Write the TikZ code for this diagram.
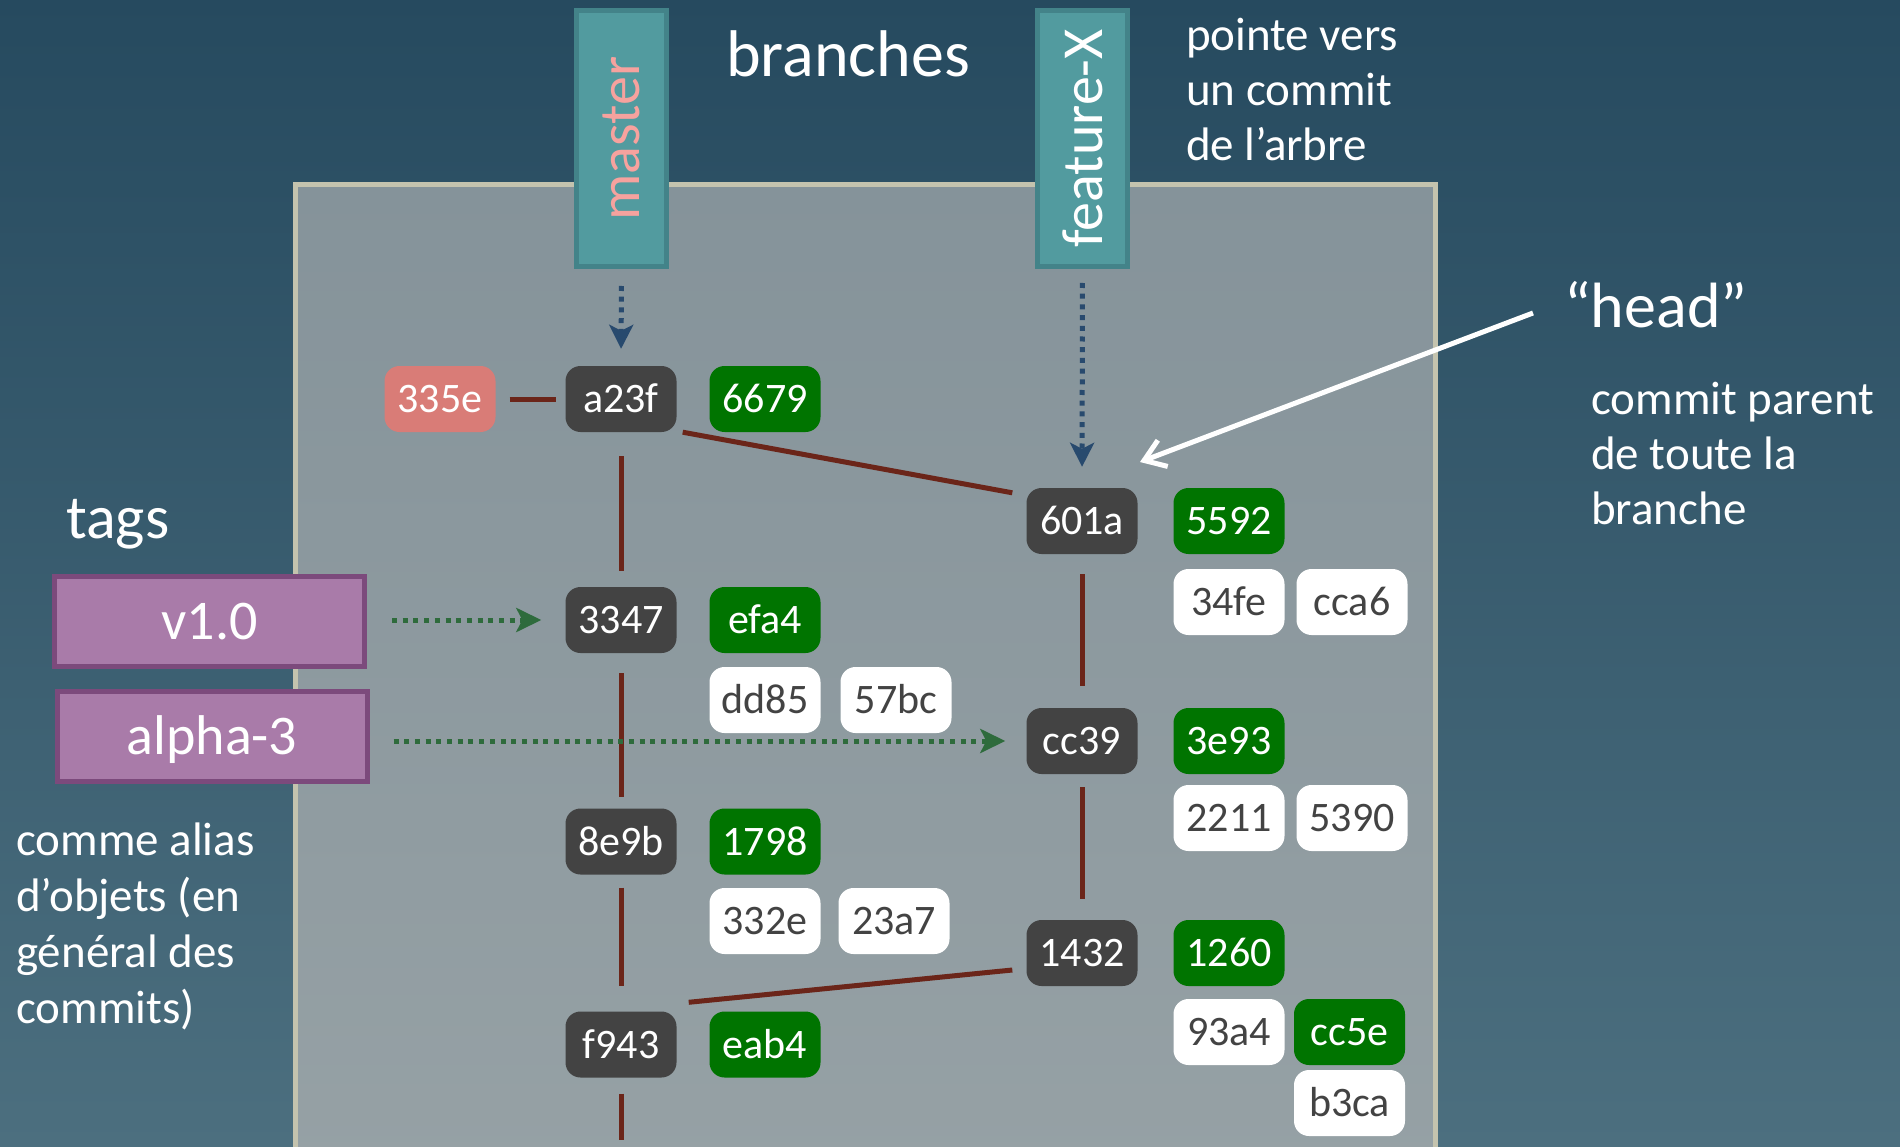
\documentclass[tikz,border=0pt]{standalone}
\usepackage{fontspec}
\setmainfont{Carlito}
\usetikzlibrary{arrows.meta}
\definecolor{bgtop}{HTML}{264A5F}
\definecolor{bgbot}{HTML}{4C6F7F}
\definecolor{paneltop}{HTML}{85939A}
\definecolor{panelbot}{HTML}{96A1A5}
\definecolor{panelline}{HTML}{C4C3AE}
\definecolor{commitgray}{HTML}{434343}
\definecolor{treegreen}{HTML}{007400}
\definecolor{pinkbox}{HTML}{D97C77}
\definecolor{linkred}{HTML}{6B2519}
\definecolor{branchfill}{HTML}{529B9F}
\definecolor{branchline}{HTML}{438389}
\definecolor{mastertext}{HTML}{F6A29E}
\definecolor{tagfill}{HTML}{A97BA9}
\definecolor{tagline}{HTML}{7C4A7C}
\definecolor{taggreen}{HTML}{2E6B3C}
\definecolor{branchblue}{HTML}{284A6E}
\newcommand\fsz[1]{\fontsize{#1}{#1}\selectfont}
\begin{document}
\begin{tikzpicture}[x=1pt,y=-1pt,
  objbox/.style={rounded corners=15pt, minimum width=111pt, minimum height=66pt,
    inner sep=0pt, text height=27pt, text depth=0pt, font=\fsz{42}},
  commit/.style={objbox, fill=commitgray, text=white},
  treeobj/.style={objbox, fill=treegreen, text=white},
  blobobj/.style={objbox, fill=white, text=commitgray},
  pinkobj/.style={objbox, fill=pinkbox, text=white},
  branchbox/.style={draw=branchline, line width=5pt, fill=branchfill, rotate=90,
    minimum width=256pt, minimum height=90pt, inner sep=0pt, font=\fsz{58}},
  tagbox/.style={draw=tagline, line width=5pt, fill=tagfill, text=white,
    minimum width=310pt, minimum height=90pt, inner sep=0pt,
    text height=35pt, text depth=0pt, font=\fsz{56}},
  link/.style={draw=linkred, line width=5pt},
  tagarrow/.style={draw=taggreen, line width=5pt, dash pattern=on 5pt off 5.7pt,
    -{Stealth[length=25pt,width=24pt,inset=6pt]}},
  brancharrow/.style={draw=branchblue, line width=5pt, dash pattern=on 5pt off 5.7pt,
    -{Stealth[length=24pt,width=24pt,inset=6pt]}},
  headarrow/.style={draw=white, line width=5pt, -{Straight Barb[length=20pt,width=28pt]}},
  label/.style={text=white, inner sep=0pt, anchor=base west},
]
\useasboundingbox (0,0) rectangle (1900,1147);
\shade[top color=bgtop, bottom color=bgbot] (0,0) rectangle (1900,1147);
\begin{scope}
  \clip (0,0) rectangle (1900,1147);
  \shadedraw[top color=paneltop, bottom color=panelbot, draw=panelline, line width=5pt]
    (295,184.5) rectangle (1435,1170);
\end{scope}

% titles and explanations
\node[text=white, inner sep=0pt, anchor=base, font=\fsz{66}] (branches) at (848,77) {branches};
\node[label, font=\fsz{47}] (pv1) at (1186,51) {pointe vers};
\node[label, font=\fsz{47}] (pv2) at (1186,106) {un commit};
\node[label, font=\fsz{47}] (pv3) at (1186,161) {de l’arbre};
\node[label, font=\fsz{64}] (head) at (1564,328) {“head”};
\node[label, font=\fsz{47}] (cp1) at (1591,414) {commit parent};
\node[label, font=\fsz{47}] (cp2) at (1591,469) {de toute la};
\node[label, font=\fsz{47}] (cp3) at (1591,524) {branche};
\node[label, font=\fsz{62}] (tags) at (66,538) {tags};
\node[label, font=\fsz{47}] (ca1) at (16,855) {comme alias};
\node[label, font=\fsz{47}] (ca2) at (16,911) {d’objets (en};
\node[label, font=\fsz{47}] (ca3) at (16,967) {général des};
\node[label, font=\fsz{47}] (ca4) at (16,1023) {commits)};

% branches
\node[branchbox, text=mastertext] (master) at (621.5,138.5) {master};
\node[branchbox, text=white] (featx) at (1082.5,138.5) {feature-X};

% tags
\node[tagbox] (v10) at (209.5,621.5) {v1.0};
\node[tagbox] (alpha) at (212,736.5) {alpha-3};

% commits
\node[commit] (ca23f) at (621,399) {a23f};
\node[commit] (c3347) at (621,620) {3347};
\node[commit] (c8e9b) at (621,841.5) {8e9b};
\node[commit] (cf943) at (621,1044.5) {f943};
\node[commit] (c601a) at (1082,521) {601a};
\node[commit] (ccc39) at (1082,741) {cc39};
\node[commit] (c1432) at (1082,953) {1432};
\node[pinkobj] (p335e) at (440,399) {335e};

% trees
\node[treeobj] (g6679) at (765,399) {6679};
\node[treeobj] (gefa4) at (765,620) {efa4};
\node[treeobj] (g1798) at (765,841.5) {1798};
\node[treeobj] (geab4) at (765,1044.5) {eab4};
\node[treeobj] (g5592) at (1229,521) {5592};
\node[treeobj] (g3e93) at (1229,741) {3e93};
\node[treeobj] (g1260) at (1229,953) {1260};
\node[treeobj] (gcc5e) at (1349.5,1032) {cc5e};

% blobs
\node[blobobj] (wdd85) at (765,700) {dd85};
\node[blobobj] (w57bc) at (896,700) {57bc};
\node[blobobj] (w34fe) at (1229,602) {34fe};
\node[blobobj] (wcca6) at (1352,602) {cca6};
\node[blobobj] (w2211) at (1229,818) {2211};
\node[blobobj] (w5390) at (1352,818) {5390};
\node[blobobj] (w332e) at (765,921) {332e};
\node[blobobj] (w23a7) at (894,921) {23a7};
\node[blobobj] (w93a4) at (1229,1032) {93a4};
\node[blobobj] (wb3ca) at (1349.5,1103) {b3ca};

% history links
\draw[link, shorten <=14pt, shorten >=9pt] (p335e) -- (ca23f);
\draw[link, shorten <=24pt, shorten >=16pt] (ca23f) -- (c3347);
\draw[link, shorten <=20pt, shorten >=11pt] (c3347) -- (c8e9b);
\draw[link, shorten <=13pt, shorten >=25pt] (c8e9b) -- (cf943);
\coordinate (tailend) at (621,1140);
\draw[link, shorten <=16pt] (cf943) -- (tailend);
\draw[link, shorten <=20pt, shorten >=22pt] (c601a) -- (ccc39);
\draw[link, shorten <=13pt, shorten >=21pt] (ccc39) -- (c1432);
\draw[link] ([xshift=6pt]ca23f.south east) -- ([xshift=-14pt,yshift=-5pt]c601a.north west);
\draw[link] ([xshift=12pt,yshift=9pt]cf943.north east) -- ([xshift=-14pt,yshift=-17pt]c1432.west);

% branch pointers
\draw[brancharrow, shorten <=17pt, shorten >=17pt] (master.west) -- (ca23f.north);
\draw[brancharrow, shorten <=14pt, shorten >=21pt] (featx.west) -- (c601a.north);

% tag pointers
\draw[tagarrow, shorten <=25pt, shorten >=24pt] (v10.east |- c3347) -- (c3347.west);
\draw[tagarrow, shorten <=24pt, shorten >=21pt] (alpha.east |- ccc39) -- (ccc39.west);

% head arrow
\coordinate (headtail) at (1533,313);
\coordinate (headtip) at (1140,462);
\draw[headarrow] (headtail) -- (headtip);
\end{tikzpicture}
\end{document}
